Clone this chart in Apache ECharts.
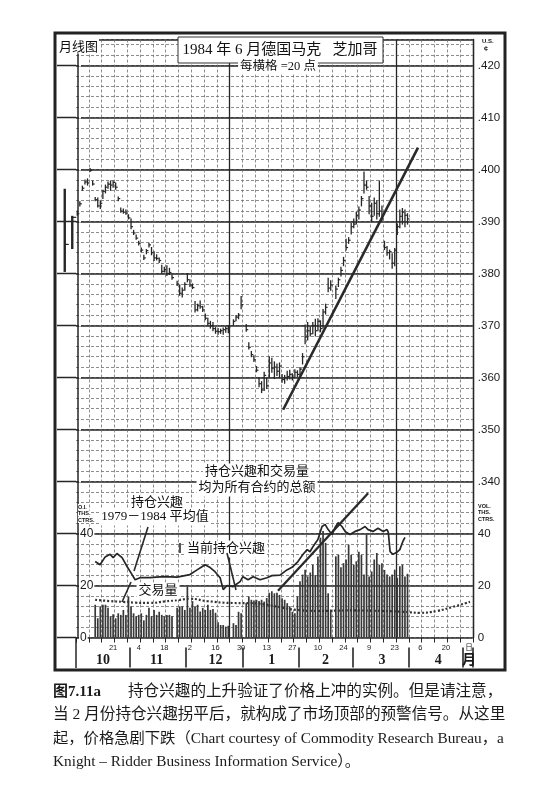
<!DOCTYPE html>
<html><head><meta charset="utf-8">
<script src="https://cdn.jsdelivr.net/npm/echarts/dist/echarts.min.js"></script>
<style>html,body{margin:0;padding:0;background:#fff}#c{width:556px;height:799px}</style>
</head><body><div id="c"></div>
<script>
// ---- data ----
const priceLow = [.3912,.3930,.3960,.3972,.3970,.3996,.3970,.3940,.3928,.3925,
.3944,.3955,.3964,.3960,.3966,.3962,.3940,.3918,.3916,.3914,
.3905,.3886,.3875,.3866,.3855,.3842,.3827,.3838,.3851,.3836,
.3825,.3826,.3821,.3800,.3803,.3796,.3798,.3789,null,.3777,
.3758,.3755,.3768,.3784,.3775,.3771,.3726,.3728,.3733,.3727,
.3711,.3701,.3695,.3690,.3685,.3683,.3685,.3683,.3687,.3686,
null,.3701,.3709,.3713,.3732,null,.3689,.3655,.3640,.3631,
.3611,.3582,.3571,.3575,.3579,.3600,.3610,.3598,.3604,.3600,
.3591,.3589,.3595,.3597,.3595,.3600,.3602,.3605,.3626,.3665,
.3672,.3680,.3684,.3680,.3690,.3688,.3695,.3722,.3765,.3768,
null,.3752,.3775,.3795,.3815,.3845,.3858,.3876,.3888,.3895,
.3905,.3930,.3955,.3962,.3915,.3900,.3912,.3905,.3910,.3900,
.3846,.3835,.3828,.3810,.3815,.3875,.3888,.3895,.3890,.3895];
const priceHigh = [.3920,.3938,.3968,.3980,.3982,.4002,.3978,.3946,.3945,.3940,
.3960,.3970,.3976,.3978,.3978,.3974,.3947,.3926,.3924,.3922,
.3913,.3905,.3883,.3874,.3862,.3849,.3835,.3846,.3858,.3850,
.3842,.3836,.3830,.3816,.3812,.3815,.3810,.3797,null,.3785,
.3778,.3772,.3782,.3800,.3788,.3780,.3746,.3741,.3747,.3737,
.3722,.3714,.3708,.3706,.3696,.3694,.3693,.3695,.3697,.3699,
null,.3711,.3719,.3723,.3756,null,.3702,.3667,.3650,.3642,
.3621,.3600,.3592,.3610,.3598,.3640,.3637,.3630,.3626,.3628,
.3606,.3604,.3612,.3614,.3607,.3615,.3613,.3619,.3646,.3701,
.3706,.3697,.3706,.3712,.3713,.3709,.3731,.3741,.3791,.3786,
null,.3776,.3791,.3812,.3831,.3866,.3869,.3896,.3905,.3918,
.3928,.3948,.3995,.3978,.3948,.3935,.3945,.3940,.3978,.3930,
.3862,.3852,.3845,.3838,.3848,.3895,.3922,.3925,.3922,.3915];
const priceClose = [.3915,.3934,.3964,.3976,.3974,.3998,.3972,.3942,.3930,.3935,
.3958,.3966,.3972,.3970,.3975,.3966,.3944,.3920,.3918,.3916,
.3907,.3890,.3878,.3868,.3858,.3845,.3830,.3844,.3855,.3840,
.3830,.3829,.3825,.3804,.3808,.3800,.3802,.3792,null,.3780,
.3762,.3768,.3779,.3788,.3778,.3773,.3730,.3738,.3736,.3730,
.3714,.3704,.3700,.3694,.3689,.3688,.3690,.3692,.3694,.3697,
null,.3708,.3716,.3720,.3740,null,.3692,.3658,.3644,.3634,
.3614,.3588,.3576,.3604,.3584,.3628,.3618,.3620,.3612,.3622,
.3596,.3600,.3602,.3606,.3600,.3610,.3606,.3616,.3640,.3678,
.3690,.3684,.3700,.3690,.3708,.3694,.3726,.3735,.3772,.3778,
null,.3770,.3788,.3806,.3825,.3850,.3864,.3890,.3895,.3912,
.3922,.3944,.3970,.3966,.3930,.3910,.3935,.3915,.3920,.3905,
.3850,.3840,.3842,.3820,.3845,.3890,.3910,.3918,.3912,.3905];
const volume = [null,null,null,null,null,null,null,12.6,7.4,12.0,
12.6,12.6,11.4,8.2,8.9,7.4,9.3,8.7,10.6,8.7,
15.7,12.0,9.3,8.2,8.7,9.3,6.6,8.7,11.4,8.2,
10.6,8.7,9.9,8.7,8.2,8.7,8.7,8.2,null,11.4,
12.0,12.0,10.6,19.5,11.4,14.0,12.0,12.6,10.0,11.4,
10.6,12.6,10.6,11.0,9.5,5.9,4.8,4.8,4.2,4.5,
null,5.5,4.8,9.9,9.3,null,13.3,15.8,14.5,14.2,
14.5,14.0,14.5,13.8,15.2,17.2,17.8,17.0,17.2,16.4,
15.1,14.5,13.2,12.0,9.9,9.3,15.8,21.6,24.2,26.1,
23.5,25.0,28.0,24.0,31.2,38.4,41.0,36.4,17.0,10.7,
null,31.2,31.8,27.0,28.6,30.0,35.7,31.8,28.0,29.3,
33.0,31.8,24.2,39.6,23.5,25.4,30.0,32.5,28.0,28.6,
26.0,24.2,23.5,24.2,26.1,23.0,27.4,28.0,23.5,24.5];
const oiIdx = [7,8.9,10.9,12.8,14,15.5,17.5,19.5,21.4,22.6,24.5,28.4,33.5,39,44,46.8,48.7,49.9,51.9,53.8,
55.8,57,58.5,60.9,63.6,64.7,66.7,68.7,71.4,74.1,76,79.2,81.9,83.9,86.2,88.2,89.8,90.9,92.1,94,
95.6,96.8,98,99.5,100.7,101.9,103.4,104.6,106.5,108.5,110.5,112.4,113.6,115.5,117.5,119.5,121,121.5,122.2,123.3,
124.9,126,127.2,128];
const oiVal = [29.2,28,31,32,30.7,32.3,30.7,27.2,24.2,22.2,23,23,23.4,23.2,24.2,26,27.2,28,26.9,25.3,
23,18.4,20,19.6,21.5,23.4,22.2,23.4,22.2,23,23.8,24,26,27,29.2,32,33.8,33,35,37.7,
42.7,43.5,41.5,39.6,42.3,44.2,42.7,40.8,39.6,40.8,41.5,42.7,41.5,40.8,42,40.8,41.5,40.4,33,32,
32.8,33.8,37,38.5];
const avgIdx = [7,12.8,17.9,22.6,28.4,34.3,40.2,44,50.7,59.7,67.5,74.1,80.4,85.9,93.6,106.5,119.5,127.2,133.9,140.5,146.8,153.4];
const avgVal = [14.5,14,13.7,13.4,13.3,13.9,14.5,14.9,14,13.3,13.2,12.6,11.4,10.6,10.2,10.4,10.2,9.9,9.5,10.2,11.8,13.7];
const priceTrendIdx = [80.4,133.1];
const priceTrendVal = [0.3538,0.4042];
const oiTrendIdx = [78.4,113.6];
const oiTrendVal = [18,55.5];
const monthlyCats = ['1983-09','1983-10'];
const monthlyHigh = [0.3962,0.3910];
const monthlyLow = [0.3804,0.3848];
const monthlyClose = [0.3856,0.3908];
const dateLabelIdx = [14,24,34,44,54,64,74,84,94,104,114,124,134,144,153];
const dateLabelText = ['21','4','18','2','16','30','13','27','10','24','9','23','6','20','日'];
const monthLabelIdx = [10,31,54,76,97,119,141,153];
const monthLabelText = ['10','11','12','1','2','3','4','月'];
const monthStartIdx = [21,43,65,87,108,130,151];
const quarterLineIdx = [60,125];
const priceLabelVals = [340,350,360,370,380,390,400,410,420];
const volLabelVals = [0,20,40];

// trading-day categories (weekdays from 3 Oct 1983)
const days = [];
{ let d = new Date(Date.UTC(1983,9,3));
  while (days.length < 155) { const w = d.getUTCDay(); if (w>0 && w<6) days.push(d.toISOString().slice(0,10)); d.setUTCDate(d.getUTCDate()+1); } }

const priceRows = [];
for (let i=0;i<priceHigh.length;i++) if (priceHigh[i]!=null) priceRows.push([i, priceLow[i], priceHigh[i], priceClose[i]]);
const monthlyRows = monthlyHigh.map((h,i)=>[i, monthlyLow[i], h, monthlyClose[i]]);

const INK = '#262626';
const DASH = {type:[3,2], color:'#707070', width:0.8};
const SERIF = "'Liberation Serif','Noto Sans CJK SC'";
const CJK = "'Noto Sans CJK SC'";

const chart = echarts.init(document.getElementById('c'));
const gridBox = {left:76, right:83.2, top:39.5, bottom:161.5, outerBoundsMode:'none'};

function hlc(lw, tick){
  return function(params, api){
    const i = api.value(0);
    const lo = api.coord([i, api.value(1)]);
    const hi = api.coord([i, api.value(2)]);
    const cl = api.coord([i, api.value(3)]);
    return {type:'group', children:[
      {type:'line', shape:{x1:hi[0],y1:hi[1]-0.5,x2:lo[0],y2:lo[1]+0.5}, style:{stroke:INK,lineWidth:lw}},
      {type:'line', shape:{x1:cl[0],y1:cl[1],x2:cl[0]+tick,y2:cl[1]}, style:{stroke:INK,lineWidth:1.2}}
    ]};
  };
}

chart.setOption({
  animation:false,
  backgroundColor:'#fff',
  grid:[gridBox, {left:61, right:480, top:39.5, bottom:161.5, outerBoundsMode:'none'}],
  xAxis:[
    {type:'category', gridIndex:0, position:'bottom', data:days, boundaryGap:true,
     axisLine:{show:false},
     axisTick:{show:true, interval:(i)=>i%5===0, length:5, lineStyle:{color:INK,width:1}},
     axisLabel:{interval:(i)=>dateLabelIdx.includes(i), formatter:(v,i)=>dateLabelText[dateLabelIdx.indexOf(i)]||'',
       fontSize:7.5, color:'#222', margin:7, fontFamily:"'Liberation Sans','Noto Sans CJK SC'"},
     splitLine:{show:true, interval:(i)=>i%5===0 && i>0, lineStyle:DASH}},
    {type:'category', gridIndex:0, position:'bottom', data:days, boundaryGap:true, offset:10,
     axisLine:{show:false},
     axisTick:{show:true, interval:(i)=>monthStartIdx.includes(i), length:20, lineStyle:{color:INK,width:1.6}},
     axisLabel:{interval:(i)=>monthLabelIdx.includes(i), formatter:(v,i)=>monthLabelText[monthLabelIdx.indexOf(i)]||'',
       fontSize:14, fontWeight:'bold', color:'#1a1a1a', margin:6, fontFamily:SERIF},
     splitLine:{show:true, interval:(i)=>quarterLineIdx.includes(i), lineStyle:{color:INK,width:1.3}}},
    {type:'value', gridIndex:0, position:'bottom', min:-0.5, max:154.5, show:false},
    {type:'category', gridIndex:1, data:monthlyCats, show:false}
  ],
  yAxis:[
    {type:'value', gridIndex:0, position:'left', min:0, max:230, interval:20,
     axisLine:{show:true, lineStyle:{color:INK,width:1.5}}, axisTick:{show:false}, splitLine:{show:false},
     axisLabel:{inside:true, margin:3, formatter:(v)=>volLabelVals.includes(v)?String(v):'', fontSize:12, color:'#1a1a1a',
       fontFamily:"'Liberation Sans'", backgroundColor:'#fff', padding:[1,1]}},
    {type:'value', gridIndex:0, position:'right', min:0.310, max:0.425, interval:0.002,
     axisLine:{show:true, lineStyle:{color:INK,width:1.3}}, axisTick:{show:false},
     splitLine:{show:true, lineStyle:DASH},
     axisLabel:{margin:5, fontSize:11.5, color:'#1a1a1a', fontFamily:"'Liberation Sans'",
       formatter:(v)=>{const k=Math.round(v*1000); if(Math.abs(v*1000-k)>1e-6) return '';
         if(priceLabelVals.includes(k)) return '.'+k;
         const vv=Math.round((k-310)*2); if(k<=330 && volLabelVals.includes(vv)) return String(vv); return '';}}},
    {type:'value', gridIndex:0, position:'right', min:0.310, max:0.425, interval:0.010,
     axisLine:{show:false}, axisTick:{show:false}, axisLabel:{show:false},
     splitLine:{show:true, lineStyle:{color:INK,width:1.5}}},
    {type:'value', gridIndex:1, min:0.310, max:0.425, show:false}
  ],
  series:[
    {name:'交易量', type:'bar', xAxisIndex:0, yAxisIndex:0, data:volume, barWidth:1.7,
     itemStyle:{color:'#383838'}, z:2},
    {name:'价格', type:'custom', xAxisIndex:0, yAxisIndex:1, data:priceRows, renderItem:hlc(1.3,2),
     encode:{x:0, y:[1,2,3]}, z:4},
    {name:'当前持仓兴趣', type:'line', xAxisIndex:2, yAxisIndex:0, data:oiIdx.map((x,i)=>[x,oiVal[i]]),
     symbol:'none', lineStyle:{color:INK,width:1.7}, z:5},
    {name:'持仓兴趣 1979-1984 平均值', type:'line', xAxisIndex:2, yAxisIndex:0, data:avgIdx.map((x,i)=>[x,avgVal[i]]),
     symbol:'none', smooth:true, lineStyle:{color:'#333',width:2.2,type:[2,2]}, z:5},
    {name:'价格趋势线', type:'line', xAxisIndex:2, yAxisIndex:1, data:priceTrendIdx.map((x,i)=>[x,priceTrendVal[i]]),
     symbol:'none', lineStyle:{color:'#2a2a2a',width:2.6}, z:6},
    {name:'持仓趋势线', type:'line', xAxisIndex:2, yAxisIndex:0, data:oiTrendIdx.map((x,i)=>[x,oiTrendVal[i]]),
     symbol:'none', lineStyle:{color:'#2a2a2a',width:2.3}, z:6},
    {name:'月线', type:'custom', xAxisIndex:3, yAxisIndex:3, data:monthlyRows, renderItem:hlc(2.4,4),
     encode:{x:0, y:[1,2,3]}, z:4}
  ]
});

// graphics: frame, extended major lines, titles and notes
const g = [];
const leftX = chart.convertToPixel({xAxisIndex:2}, -0.5);
for (let k=310;k<=420;k+=10){
  const y = chart.convertToPixel({yAxisIndex:2}, k/1000);
  g.push({type:'line', shape:{x1:57, y1:y, x2:leftX, y2:y}, style:{stroke:INK, lineWidth:1.5}, z:50});
}
const y0 = chart.convertToPixel({yAxisIndex:0}, 0);
g.push({type:'line', shape:{x1:leftX, y1:y0, x2:leftX, y2:668}, style:{stroke:INK, lineWidth:1.5}, z:50});
g.push({type:'rect', shape:{x:55, y:33, width:450, height:637}, style:{fill:'none', stroke:'#222', lineWidth:3}, z:60});
// title box
g.push({type:'rect', shape:{x:178, y:37, width:205, height:26}, style:{fill:'#fff', stroke:'#333', lineWidth:1}, z:70});
g.push({type:'text', x:280, y:50, style:{text:'1984 年 6 月德国马克   芝加哥', font:"15px "+SERIF, fill:'#111', align:'center', verticalAlign:'middle'}, z:71});
g.push({type:'text', x:278, y:67, style:{text:'每横格 =20 点', font:"12.5px "+SERIF, fill:'#111', align:'center', verticalAlign:'middle', backgroundColor:'#fff', padding:[1,2]}, z:71});
g.push({type:'text', x:58, y:46, style:{text:'月线图', font:"13px "+CJK, fill:'#111', align:'left', verticalAlign:'middle', backgroundColor:'#fff', padding:[1,1]}, z:71});
g.push({type:'text', x:482, y:41, style:{text:'U.S.', font:"bold 6px 'Liberation Sans'", fill:'#111', align:'left', verticalAlign:'middle'}, z:71});
g.push({type:'text', x:484, y:49, style:{text:'¢', font:"bold 7px 'Liberation Sans'", fill:'#111', align:'left', verticalAlign:'middle'}, z:71});
['O.I.','THS.','CTRS.'].forEach((t,i)=>g.push({type:'text', x:78, y:507+i*6.5, style:{text:t, font:"bold 5.5px 'Liberation Sans'", fill:'#111', align:'left', verticalAlign:'middle', backgroundColor:'#fff'}, z:71}));
['VOL.','THS.','CTRS.'].forEach((t,i)=>g.push({type:'text', x:478, y:506+i*6.5, style:{text:t, font:"bold 5.5px 'Liberation Sans'", fill:'#111', align:'left', verticalAlign:'middle'}, z:71}));
// notes
const note = (t,x,y)=>g.push({type:'text', x:x, y:y, style:{text:t, font:"13px "+SERIF, fill:'#111', align:'center', verticalAlign:'middle', backgroundColor:'#fff', padding:[2,2]}, z:71});
note('持仓兴趣和交易量',257,472);
note('均为所有合约的总额',257,488);
note('持仓兴趣',157,503);
note('1979－1984 平均值',155,517);
note('当前持仓兴趣',226,549);
note('交易量',158,591);
const ptr = (x1,y1,x2,y2)=>g.push({type:'line', shape:{x1,y1,x2,y2}, style:{stroke:'#2a2a2a', lineWidth:1.6}, z:72});
ptr(148,527,134,571);
ptr(227,553,236,590);
ptr(180,543,180,553);
ptr(131,582,122,602);
// caption
const cap = (t,x,y,font)=>g.push({type:'text', x:x, y:y, style:{text:t, font:font, fill:'#1a1a1a', align:'left', verticalAlign:'middle'}, z:71});
cap('图7.11a',53,692,"bold 15px 'Liberation Serif','Noto Sans CJK SC'");
cap('持仓兴趣的上升验证了价格上冲的实例。但是请注意，',128,692,"15.6px "+SERIF);
cap('当 2 月份持仓兴趣拐平后，就构成了市场顶部的预警信号。从这里',53,715,"15.6px "+SERIF);
cap('起，价格急剧下跌（Chart courtesy of Commodity Research Bureau，a',53,739,"15.3px "+SERIF);
cap('Knight – Ridder Business Information Service）。',53,762,"15.3px "+SERIF);
chart.setOption({graphic:{elements:g}});
</script></body></html>
